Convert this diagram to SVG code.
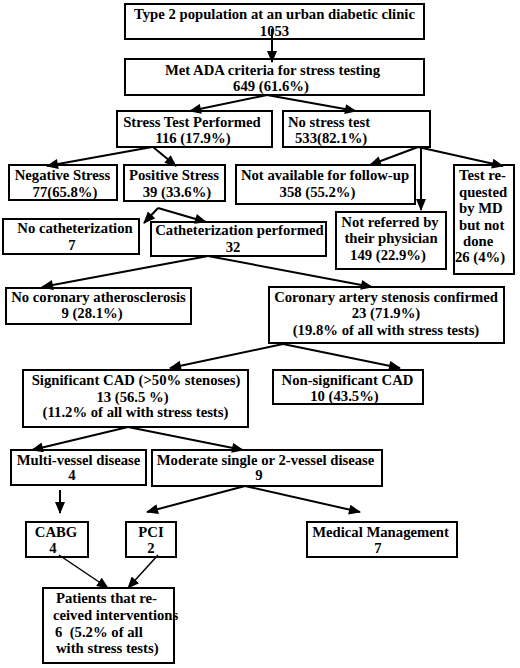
<svg xmlns="http://www.w3.org/2000/svg" width="520" height="668" viewBox="0 0 520 668">
<defs>
<style>
.box{fill:#fff;stroke:#000;stroke-width:2}
text{font-family:"Liberation Serif","Times New Roman",serif;font-weight:bold;font-size:14.7px;fill:#000}
.c{text-anchor:middle}
.s{text-anchor:start}
.ln{stroke:#000;stroke-width:2;fill:none;marker-end:url(#ah)}
.thin{stroke:#000;stroke-width:1.5;fill:none;marker-end:url(#ah2)}
</style>
<marker id="ah" viewBox="0 0 12 10" refX="11" refY="5" markerWidth="13" markerHeight="10" orient="auto" markerUnits="userSpaceOnUse">
<path d="M0,0 L12,5 L0,10 Z" fill="#000"/>
</marker>
<marker id="ah2" viewBox="0 0 12 10" refX="11" refY="5" markerWidth="12" markerHeight="10" orient="auto" markerUnits="userSpaceOnUse">
<path d="M0,0 L12,5 L0,10 Z" fill="#000"/>
</marker>
</defs>
<rect width="520" height="668" fill="#fff"/>

<g id="n1"><rect class="box" x="125" y="4" width="299" height="35"/>
<text class="c" x="274.5" y="19">Type 2 population at an urban diabetic clinic</text>
<text class="c" x="274.5" y="35.5">1053</text></g>

<g id="n2"><rect class="box" x="125" y="59" width="299" height="36"/>
<text class="c" x="272.5" y="75">Met ADA criteria for stress testing</text>
<text class="c" x="271" y="91">649 (61.6%)</text></g>

<g id="n3"><rect class="box" x="117" y="111" width="155" height="36"/>
<text class="c" x="192" y="127">Stress Test Performed</text>
<text class="c" x="193" y="143">116 (17.9%)</text></g>

<g id="n4"><rect class="box" x="283" y="111" width="147" height="36"/>
<text class="s" x="288" y="127">No stress test</text>
<text class="s" x="295" y="143">533(82.1%)</text></g>

<g id="n5"><rect class="box" x="9" y="165" width="108" height="35"/>
<text class="c" x="62.5" y="180">Negative Stress</text>
<text class="c" x="65" y="197">77(65.8%)</text></g>

<g id="n6"><rect class="box" x="124" y="165" width="101" height="36"/>
<text class="c" x="174" y="180">Positive Stress</text>
<text class="c" x="177" y="197">39 (33.6%)</text></g>

<g id="n7"><rect class="box" x="236" y="165" width="179" height="39"/>
<text class="c" x="325" y="180">Not available for follow-up</text>
<text class="c" x="317.5" y="197">358 (55.2%)</text></g>

<g id="n8"><rect class="box" x="336" y="212" width="110" height="57"/>
<text class="c" x="390" y="227">Not referred by</text>
<text class="c" x="391" y="243">their physician</text>
<text class="c" x="388" y="260">149 (22.9%)</text></g>

<g id="n9"><rect class="box" x="454" y="165" width="60" height="109"/>
<text class="s" x="459" y="180">Test re-</text>
<text class="s" x="459" y="197">quested</text>
<text class="s" x="459" y="213">by MD</text>
<text class="s" x="459" y="230">but not</text>
<text class="s" x="463" y="246">done</text>
<text class="s" x="455" y="262">26 (4%)</text></g>

<g id="n10"><rect class="box" x="3" y="219" width="136" height="35"/>
<text class="c" x="75" y="233">No catheterization</text>
<text class="c" x="72" y="250">7</text></g>

<g id="n11"><rect class="box" x="151" y="222" width="175" height="34"/>
<text class="c" x="239.5" y="235">Catheterization performed</text>
<text class="c" x="233" y="252">32</text></g>

<g id="n12"><rect class="box" x="6" y="288" width="185" height="36"/>
<text class="c" x="98.5" y="302">No coronary atherosclerosis</text>
<text class="c" x="92" y="318">9 (28.1%)</text></g>

<g id="n13"><rect class="box" x="269" y="287" width="235" height="56"/>
<text class="c" x="386" y="302">Coronary artery stenosis confirmed</text>
<text class="c" x="386" y="318">23 (71.9%)</text>
<text class="c" x="386" y="335">(19.8% of all with stress tests)</text></g>

<g id="n14"><rect class="box" x="23" y="370" width="225" height="57"/>
<text class="c" x="136" y="385">Significant CAD (&gt;50% stenoses)</text>
<text class="c" x="132.5" y="402">13 (56.5 %)</text>
<text class="c" x="135.5" y="417">(11.2% of all with stress tests)</text></g>

<g id="n15"><rect class="box" x="273" y="370" width="150" height="34"/>
<text class="c" x="347.5" y="385">Non-significant CAD</text>
<text class="c" x="344.5" y="401">10 (43.5%)</text></g>

<g id="n16"><rect class="box" x="11" y="450" width="135" height="35"/>
<text class="c" x="78.5" y="465">Multi-vessel disease</text>
<text class="c" x="72" y="480">4</text></g>

<g id="n17"><rect class="box" x="152" y="450" width="230" height="36"/>
<text class="c" x="265.5" y="465">Moderate single or 2-vessel disease</text>
<text class="c" x="259" y="480">9</text></g>

<g id="n18"><rect class="box" x="26" y="522" width="62" height="35"/>
<text class="c" x="56" y="537">CABG</text>
<text class="c" x="53" y="553">4</text></g>

<g id="n19"><rect class="box" x="126" y="522" width="50" height="35"/>
<text class="c" x="151" y="537">PCI</text>
<text class="c" x="151" y="553">2</text></g>

<g id="n20"><rect class="box" x="307" y="522" width="150" height="35"/>
<text class="c" x="380.5" y="537">Medical Management</text>
<text class="c" x="378" y="553">7</text></g>

<g id="n21"><rect class="box" x="43" y="588" width="131" height="75"/>
<text class="s" x="56" y="603">Patients that re-</text>
<text class="s" x="53" y="620">ceived interventions</text>
<text class="s" x="55" y="637" xml:space="preserve">6  (5.2% of all</text>
<text class="s" x="56" y="653">with stress tests)</text></g>

<g id="connectors">
<line class="ln" x1="272" y1="29" x2="272" y2="62"/>
<line class="ln" x1="267" y1="95" x2="190" y2="111"/>
<line class="ln" x1="267" y1="95" x2="356" y2="111"/>
<line class="ln" x1="152" y1="147" x2="47" y2="166"/>
<line class="ln" x1="153" y1="147" x2="176" y2="166"/>
<line class="ln" x1="418" y1="147" x2="370" y2="165"/>
<line class="ln" x1="421" y1="147" x2="421" y2="210"/>
<line class="ln" x1="418" y1="147" x2="503" y2="166"/>
<line class="ln" x1="158" y1="208" x2="144" y2="223"/>
<line class="ln" x1="158" y1="208" x2="206" y2="222"/>
<line class="ln" x1="208" y1="256" x2="42" y2="287"/>
<line class="ln" x1="208" y1="256" x2="372" y2="287"/>
<line class="ln" x1="283" y1="344" x2="170" y2="368"/>
<line class="ln" x1="283" y1="344" x2="400" y2="368"/>
<line class="ln" x1="128" y1="427" x2="32" y2="450"/>
<line class="ln" x1="128" y1="427" x2="243" y2="450"/>
<line class="ln" x1="60" y1="490" x2="60" y2="513"/>
<line class="ln" x1="245" y1="486" x2="147" y2="512"/>
<line class="ln" x1="245" y1="486" x2="360" y2="512"/>
<line class="thin" x1="59" y1="555" x2="108" y2="588"/>
<line class="thin" x1="158" y1="555" x2="128" y2="588"/>
</g>
</svg>
